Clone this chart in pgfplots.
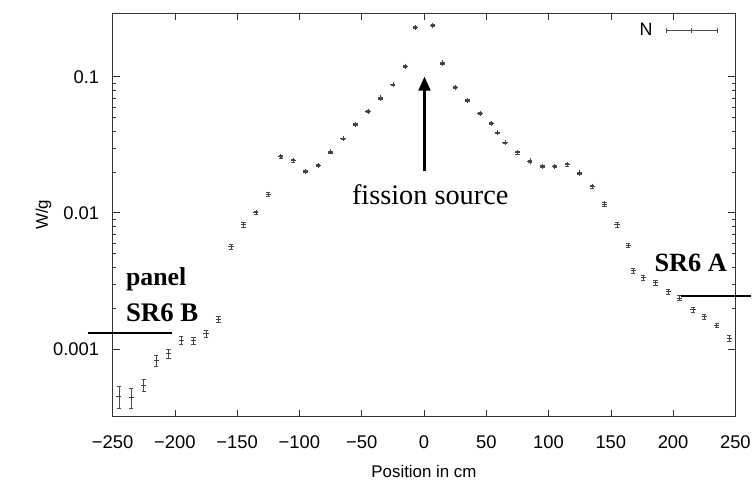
\documentclass[border=0pt]{standalone}
\usepackage{fontspec}
\setmainfont{Liberation Sans}
\newfontfamily\tms{Liberation Serif}
\usepackage{pgfplots}
\usepackage{pgfplotstable}
\pgfplotsset{compat=1.18}
\usetikzlibrary{arrows.meta}

% position (cm), power (W/g), error
\pgfplotstableread{
x y e
-245 4.5e-4 8.1e-5
-235 4.4e-4 7.5e-5
-225 5.4e-4 5.4e-5
-215 8.2e-4 7.4e-5
-205 9.2e-4 7.4e-5
-195 1.16e-3 7.0e-5
-185 1.15e-3 6.9e-5
-175 1.29e-3 7.7e-5
-165 1.66e-3 8.3e-5
-155 5.66e-3 2.3e-4
-145 8.17e-3 2.9e-4
-135 0.0100 3.0e-4
-125 0.0137 4.1e-4
-115 0.0259 5.2e-4
-105 0.0241 4.8e-4
-95 0.0201 4.0e-4
-85 0.0223 4.5e-4
-75 0.0280 5.6e-4
-65 0.0350 5.3e-4
-55 0.0445 6.7e-4
-45 0.0557 8.4e-4
-35 0.0698 1.0e-3
-25 0.0873 1.3e-3
-15 0.119 1.8e-3
-7 0.231 3.5e-3
7 0.238 3.6e-3
15 0.126 1.9e-3
25 0.0835 1.3e-3
35 0.067 1.0e-3
45 0.0536 8.0e-4
54 0.0453 6.8e-4
59 0.0387 5.8e-4
65 0.0327 4.9e-4
75 0.0276 5.5e-4
85 0.0240 4.8e-4
95 0.0220 4.4e-4
105 0.0220 4.4e-4
115 0.0226 4.5e-4
125 0.0196 3.9e-4
135 0.0156 3.9e-4
145 0.0116 3.5e-4
155 0.00817 2.9e-4
164 0.00577 2.3e-4
168 0.00375 1.5e-4
176 0.00333 1.3e-4
186 0.00306 1.2e-4
196 0.00265 1.1e-4
205 0.00237 9.5e-5
216 0.00195 7.8e-5
225 0.00172 6.9e-5
235 0.00149 6.0e-5
245 0.00120 6.0e-5
}\powertab

\begin{document}
\begin{tikzpicture}
\begin{axis}[
  name=ax,
  ymode=log,
  width=625bp, height=405bp, scale only axis,
  xmin=-250, xmax=250,
  ymin=3.18e-4, ymax=0.294,
  xtick={-250,-200,...,250},
  xticklabels={−250,−200,−150,−100,−50,0,50,100,150,200,250},
  ytick={0.001,0.01,0.1},
  yticklabels={0.001,0.01,0.1},
  tick align=inside, tick pos=both,
  major tick length=7bp, minor tick length=3.5bp,
  every tick/.style={black!80, line width=0.5pt},
  axis line style={black!80, line width=0.7pt},
  ticklabel style={font=\fontsize{18.5}{20}\selectfont},
  xticklabel style={yshift=-16bp},
  yticklabel style={xshift=-10bp},
  xlabel={Position in cm},
  ylabel={W/g},
  label style={font=\fontsize{17}{19}\selectfont},
  xlabel style={yshift=-10bp},
  ylabel style={yshift=-5bp},
  clip=false,
  legend style={draw=none, fill=none, at={(0.977,0.985)}, anchor=north east,
    font=\fontsize{18}{20}\selectfont,
    /tikz/every odd column/.append style={column sep=11bp}},
  legend plot pos=right,
  legend image code/.code={
    \draw[black!70, line width=0.5pt] (0bp,0bp) -- (52bp,0bp);
    \draw[black!70, line width=0.5pt] (0bp,-2.5bp) -- (0bp,2.5bp);
    \draw[black!70, line width=0.5pt] (26bp,-2.5bp) -- (26bp,2.5bp);
    \draw[black!70, line width=0.5pt] (52bp,-2.5bp) -- (52bp,2.5bp);
  },
]
\addplot[only marks, mark=+, mark size=2.6bp, black!75, line width=0.6pt,
  error bars/.cd, y dir=both, y explicit,
  error bar style={black!70, line width=0.5pt},
  error mark options={rotate=90, mark size=2.2bp, black!70}]
  table[x=x, y=y, y error=e] {\powertab};
\addlegendentry{N}

% annotations
\draw[line width=2.2bp, -{Triangle[width=12bp,length=14bp]}]
  (axis cs:0.4,0.0201) -- (axis cs:0.4,0.1);
\node[font=\tms\fontsize{28.5}{30}\selectfont, anchor=base]
  at (axis cs:5,0.0115) {fission source};
\node[font=\tms\bfseries\fontsize{26}{28}\selectfont, anchor=base west]
  at (axis cs:-242,2.9e-3) {panel};
\node[font=\tms\bfseries\fontsize{27}{29}\selectfont, anchor=base west]
  at (axis cs:-242,1.58e-3) {SR6 B};
\node[font=\tms\bfseries\fontsize{26.5}{28}\selectfont, anchor=base west, inner sep=0pt]
  at (axis cs:185,3.73e-3) {SR6 A};
\draw[line width=2.2bp] (axis cs:-270,1.31e-3) -- (axis cs:-202,1.31e-3);
\draw[line width=2.2bp] (axis cs:206,2.43e-3) -- (axis cs:262.8,2.43e-3);
\end{axis}
\path (ax.south west) ++(-113bp,-65bp) coordinate (bbsw);
\path (ax.north east) ++(16bp,13bp) coordinate (bbne);
\path[use as bounding box] (bbsw) rectangle (bbne);
\end{tikzpicture}
\end{document}
